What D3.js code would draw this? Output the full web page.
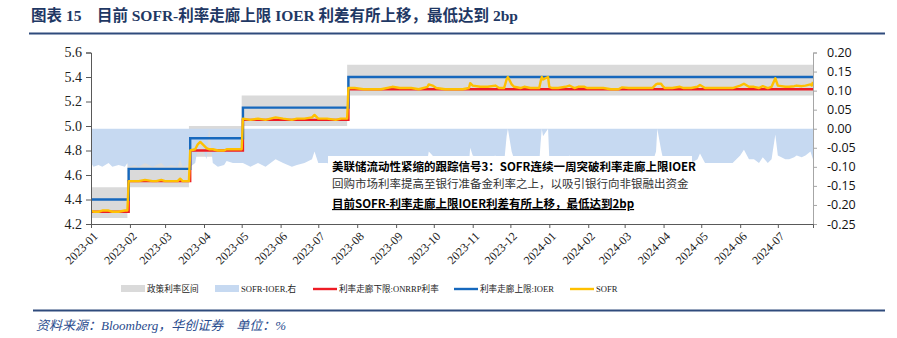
<!DOCTYPE html>
<html>
<head>
<meta charset="utf-8">
<script src="https://cdn.jsdelivr.net/npm/d3@7"></script>
<style>
  body { margin: 0; background: #fff; }
  svg { display: block; }
</style>
</head>
<body>
<svg id="chart" width="897" height="338"></svg>
<script>
// ---- Data -------------------------------------------------------------
const xDomain = ["2023-01-03", "2024-07-31"];
const xTickLabels = ["2023-01","2023-02","2023-03","2023-04","2023-05","2023-06","2023-07","2023-08","2023-09","2023-10","2023-11","2023-12","2024-01","2024-02","2024-03","2024-04","2024-05","2024-06","2024-07"];
const leftTicks = [4.2, 4.4, 4.6, 4.8, 5.0, 5.2, 5.4, 5.6];
const rightTicks = [-0.25, -0.20, -0.15, -0.10, -0.05, 0.00, 0.05, 0.10, 0.15, 0.20];

// Fed policy range (target range) and its change dates
const bandDates = ["2023-01-03", "2023-02-01", "2023-03-22", "2023-05-03", "2023-07-26"];
const bandLow  = [4.25, 4.50, 4.75, 5.00, 5.25];
const bandHigh = [4.50, 4.75, 5.00, 5.25, 5.50];

// Corridor: ceiling IOER and floor ON RRP
const corridorDates = ["2023-01-03", "2023-02-02", "2023-03-23", "2023-05-04", "2023-07-27"];
const ioerValues  = [4.40, 4.65, 4.90, 5.15, 5.40];
const onrrpValues = [4.30, 4.55, 4.80, 5.05, 5.30];

// SOFR and SOFR-IOER spread (right axis)
const sofrDates = [
  "2023-01-03","2023-01-05","2023-01-09","2023-01-12","2023-01-17","2023-01-20","2023-01-25","2023-01-30","2023-02-01",
  "2023-02-02","2023-02-07","2023-02-10","2023-02-15","2023-02-21","2023-02-24","2023-02-28","2023-03-03","2023-03-08",
  "2023-03-13","2023-03-15","2023-03-17","2023-03-21","2023-03-22","2023-03-23","2023-03-27","2023-03-28","2023-03-29",
  "2023-03-30","2023-03-31","2023-04-03","2023-04-05","2023-04-07","2023-04-10","2023-04-14","2023-04-19","2023-04-21",
  "2023-04-26","2023-05-01","2023-05-03","2023-05-04","2023-05-10","2023-05-16","2023-05-22","2023-05-30","2023-06-05",
  "2023-06-12","2023-06-16","2023-06-22","2023-06-28","2023-06-30","2023-07-03","2023-07-10","2023-07-17","2023-07-21",
  "2023-07-26","2023-07-27","2023-08-01","2023-08-08","2023-08-15","2023-08-22","2023-08-31","2023-09-06","2023-09-15",
  "2023-09-21","2023-09-28","2023-09-29","2023-10-02","2023-10-05","2023-10-12","2023-10-20","2023-10-26","2023-10-31",
  "2023-11-01","2023-11-03","2023-11-09","2023-11-15","2023-11-21","2023-11-24","2023-11-28","2023-11-30","2023-12-01",
  "2023-12-04","2023-12-06","2023-12-11","2023-12-14","2023-12-19","2023-12-22","2023-12-26","2023-12-27","2023-12-28",
  "2023-12-29","2024-01-02","2024-01-03","2024-01-05","2024-01-10","2024-01-16","2024-01-19","2024-01-23","2024-01-26",
  "2024-01-31","2024-02-02","2024-02-08","2024-02-15","2024-02-21","2024-02-27","2024-03-01","2024-03-06","2024-03-12",
  "2024-03-19","2024-03-25","2024-03-27","2024-03-28","2024-03-29","2024-04-01","2024-04-02","2024-04-04","2024-04-10",
  "2024-04-16","2024-04-19","2024-04-25","2024-04-30","2024-05-02","2024-05-06","2024-05-13","2024-05-20","2024-05-28",
  "2024-06-03","2024-06-06","2024-06-10","2024-06-14","2024-06-18","2024-06-21","2024-06-25","2024-06-28","2024-07-01",
  "2024-07-03","2024-07-09","2024-07-12","2024-07-16","2024-07-18","2024-07-22","2024-07-25","2024-07-29","2024-07-30",
  "2024-07-31"
];
const sofrValues = [
  4.31,4.30,4.30,4.31,4.31,4.30,4.30,4.31,4.31,
  4.55,4.55,4.55,4.56,4.55,4.55,4.56,4.55,4.55,
  4.55,4.57,4.55,4.55,4.55,4.80,4.81,4.83,4.85,
  4.86,4.87,4.84,4.82,4.81,4.81,4.80,4.80,4.81,
  4.81,4.81,4.81,5.06,5.05,5.06,5.05,5.07,5.06,
  5.05,5.06,5.06,5.07,5.09,5.06,5.06,5.05,5.06,
  5.06,5.31,5.31,5.30,5.30,5.30,5.32,5.31,5.31,
  5.30,5.32,5.34,5.33,5.31,5.30,5.30,5.30,5.31,
  5.35,5.33,5.32,5.32,5.33,5.31,5.31,5.38,5.40,
  5.34,5.32,5.31,5.32,5.31,5.31,5.31,5.36,5.40,
  5.38,5.40,5.32,5.31,5.31,5.32,5.33,5.31,5.32,
  5.32,5.31,5.31,5.31,5.30,5.30,5.315,5.31,5.31,
  5.31,5.31,5.33,5.34,5.345,5.345,5.33,5.31,5.31,
  5.32,5.31,5.31,5.32,5.335,5.31,5.31,5.31,5.31,
  5.33,5.345,5.32,5.32,5.31,5.325,5.31,5.32,5.39,
  5.33,5.32,5.32,5.325,5.33,5.325,5.33,5.34,5.33,
  5.36
];
const spreadValues = [
  -0.09,-0.10,-0.095,-0.10,-0.09,-0.10,-0.095,-0.10,-0.09,
  -0.10,-0.095,-0.10,-0.09,-0.10,-0.095,-0.09,-0.10,-0.095,
  -0.10,-0.08,-0.10,-0.095,-0.10,-0.10,-0.09,-0.07,-0.05,
  -0.06,-0.03,-0.06,-0.08,0.00,-0.09,-0.10,-0.095,-0.085,
  -0.09,-0.09,-0.09,-0.09,-0.10,-0.09,-0.10,-0.08,-0.09,
  -0.10,-0.095,-0.09,-0.08,-0.06,-0.09,-0.09,-0.10,-0.09,
  -0.09,-0.09,-0.09,-0.10,-0.10,-0.10,-0.08,-0.09,-0.09,
  -0.10,-0.08,-0.06,-0.07,-0.09,-0.10,-0.10,-0.10,-0.09,
  -0.05,-0.07,-0.08,-0.08,-0.07,-0.09,-0.09,-0.02,0.00,
  -0.06,-0.08,-0.09,-0.08,-0.09,-0.09,-0.09,-0.04,0.00,
  -0.02,0.00,-0.08,-0.09,-0.09,-0.08,-0.07,-0.09,-0.08,
  -0.08,-0.09,-0.09,-0.09,-0.10,-0.10,-0.085,-0.09,-0.09,
  -0.09,-0.09,-0.07,-0.06,0.00,-0.055,-0.07,-0.09,-0.09,
  -0.08,-0.09,-0.09,-0.08,-0.065,-0.09,-0.09,-0.09,-0.09,
  -0.07,-0.055,-0.08,-0.08,-0.09,-0.075,-0.09,-0.08,-0.015,
  -0.07,-0.08,-0.08,-0.075,-0.07,-0.075,-0.07,-0.06,-0.07,
  -0.08
];

const legendItems = [
  { label: "政策利率区间", kind: "rect", color: "#DADADA" },
  { label: "SOFR-IOER,右", kind: "rect", color: "#C6D9F1" },
  { label: "利率走廊下限:ONRRP利率", kind: "line", color: "#EE1C25" },
  { label: "利率走廊上限:IOER", kind: "line", color: "#1668BD" },
  { label: "SOFR", kind: "line", color: "#FFC000" }
];
const legendX = [121, 215, 313, 454, 570];

// ---- Layout -----------------------------------------------------------
const svg = d3.select("#chart");
const plot = { left: 91, right: 813, top: 52.5, bottom: 224 };
const parse = d3.timeParse("%Y-%m-%d");
const serif = "'Liberation Serif','Times New Roman','Noto Sans CJK SC',serif";
const cjk = "'Noto Sans CJK SC','Liberation Sans',sans-serif";

const x = d3.scaleTime().domain(xDomain.map(parse)).range([plot.left, plot.right]);
const yL = d3.scaleLinear().domain([4.2, 5.6]).range([plot.bottom, plot.top]);
const yR = d3.scaleLinear().domain([-0.25, 0.20]).range([plot.bottom, plot.top]);

svg.append("defs").append("clipPath").attr("id", "plotClip")
  .append("rect").attr("x", plot.left).attr("y", plot.top - 2)
  .attr("width", plot.right - plot.left).attr("height", plot.bottom - plot.top + 2);

const g = svg.append("g").attr("clip-path", "url(#plotClip)");

// Policy range band
const bandData = bandDates.map((d, i) => ({ date: parse(d), lo: bandLow[i], hi: bandHigh[i] }));
bandData.push({ date: parse(xDomain[1]), lo: bandLow[bandLow.length - 1], hi: bandHigh[bandHigh.length - 1] });
g.append("path").datum(bandData)
  .attr("fill", "#DADADA")
  .attr("d", d3.area().curve(d3.curveStepAfter)
    .x(d => x(d.date)).y0(d => yL(d.lo)).y1(d => yL(d.hi)));

// SOFR-IOER spread area (right axis)
const spreadData = sofrDates.map((d, i) => ({ date: parse(d), v: spreadValues[i] }));
g.append("path").datum(spreadData)
  .attr("fill", "#C6D9F1")
  .attr("d", d3.area().x(d => x(d.date)).y0(yR(0)).y1(d => yR(d.v)));

// Corridor step lines
function stepSeries(values) {
  const s = corridorDates.map((d, i) => ({ date: parse(d), v: values[i] }));
  s.push({ date: parse(xDomain[1]), v: values[values.length - 1] });
  return s;
}
const stepLine = d3.line().curve(d3.curveStepAfter).x(d => x(d.date)).y(d => yL(d.v));
g.append("path").datum(stepSeries(onrrpValues))
  .attr("fill", "none").attr("stroke", "#EE1C25").attr("stroke-width", 2.4).attr("d", stepLine);
g.append("path").datum(stepSeries(ioerValues))
  .attr("fill", "none").attr("stroke", "#1668BD").attr("stroke-width", 2.4).attr("d", stepLine);

// SOFR
const sofrData = sofrDates.map((d, i) => ({ date: parse(d), v: sofrValues[i] }));
g.append("path").datum(sofrData)
  .attr("fill", "none").attr("stroke", "#FFC000").attr("stroke-width", 2.4)
  .attr("stroke-linejoin", "round")
  .attr("d", d3.line().x(d => x(d.date)).y(d => yL(d.v)));

// ---- Axes -------------------------------------------------------------
const axisL = svg.append("g").attr("transform", `translate(${plot.left},0)`)
  .call(d3.axisLeft(yL).tickValues(leftTicks).tickFormat(d3.format(".1f")).tickSize(5).tickPadding(4));
axisL.select(".domain").attr("stroke", "#595959");
axisL.selectAll(".tick line").attr("stroke", "#595959");
axisL.selectAll("text").attr("font-family", serif).attr("font-size", 14).attr("fill", "#222");

const axisR = svg.append("g").attr("transform", `translate(${plot.right},0)`)
  .call(d3.axisRight(yR).tickValues(rightTicks).tickFormat(d3.format(".2f")).tickSize(4).tickPadding(10));
axisR.select(".domain").attr("stroke", "#A6A6A6");
axisR.selectAll(".tick line").attr("stroke", "#A6A6A6");
axisR.selectAll("text").attr("font-family", "'Open Sans','Liberation Sans',sans-serif")
  .attr("font-size", 12.5).attr("fill", "#111")
  .text(d => d3.format(".2f")(d).replace("−", "-"));

const tickDates = xTickLabels.map(s => parse(s + "-03"));
const axisB = svg.append("g").attr("transform", `translate(0,${plot.bottom})`)
  .call(d3.axisBottom(x).tickValues(tickDates).tickFormat((d, i) => xTickLabels[i]).tickSize(4));
axisB.select(".domain").attr("stroke", "#595959");
axisB.selectAll(".tick line").attr("stroke", "#595959");
axisB.selectAll("text")
  .attr("font-family", serif).attr("font-size", 12).attr("fill", "#222")
  .attr("text-anchor", "end")
  .attr("dx", 0).attr("dy", 0)
  .attr("transform", "translate(2,8) rotate(-45)");

// ---- Annotation box ----------------------------------------------------
svg.append("rect").attr("x", 328).attr("y", 156).attr("width", 364).attr("height", 58).attr("fill", "#fff");
const ann = svg.append("g").attr("font-family", cjk).attr("font-size", 11.5);
ann.append("text").attr("x", 332).attr("y", 171).attr("font-weight", "bold").attr("fill", "#000")
  .text("美联储流动性紧缩的跟踪信号3：SOFR连续一周突破利率走廊上限IOER");
ann.append("text").attr("x", 332).attr("y", 188).attr("fill", "#333")
  .text("回购市场利率提高至银行准备金利率之上，以吸引银行向非银融出资金");
ann.append("text").attr("x", 332).attr("y", 208).attr("font-weight", "bold").attr("fill", "#000")
  .attr("text-decoration", "underline")
  .text("目前SOFR-利率走廊上限IOER利差有所上移，最低达到2bp");

// ---- Legend -----------------------------------------------------------
const leg = svg.append("g");
legendItems.forEach((it, i) => {
  const lx = legendX[i];
  if (it.kind === "rect") {
    leg.append("rect").attr("x", lx).attr("y", 285).attr("width", 24).attr("height", 7).attr("fill", it.color);
  } else {
    leg.append("line").attr("x1", lx).attr("x2", lx + 24).attr("y1", 289).attr("y2", 289)
      .attr("stroke", it.color).attr("stroke-width", 2.4);
  }
  leg.append("text").attr("x", lx + 26).attr("y", 292)
    .attr("font-family", serif).attr("font-size", 8.6).attr("fill", "#222").text(it.label);
});

// ---- Title and source -------------------------------------------------
svg.append("text").attr("x", 31).attr("y", 21)
  .attr("font-family", "'Liberation Serif','Noto Sans CJK SC',serif").attr("font-weight", "bold")
  .attr("font-size", 15.5).attr("fill", "#1F3864")
  .text("图表 15　目前 SOFR-利率走廊上限 IOER 利差有所上移，最低达到 2bp");
svg.append("line").attr("x1", 29).attr("x2", 885).attr("y1", 33.5).attr("y2", 33.5)
  .attr("stroke", "#2F4B7C").attr("stroke-width", 2);
svg.append("line").attr("x1", 33).attr("x2", 885).attr("y1", 310.5).attr("y2", 310.5)
  .attr("stroke", "#2F4B7C").attr("stroke-width", 2);
svg.append("text").attr("x", 36).attr("y", 330)
  .attr("font-family", "'Liberation Serif','Noto Sans CJK SC',serif").attr("font-style", "italic")
  .attr("font-size", 13).attr("fill", "#2A4C8E")
  .text("资料来源：Bloomberg，华创证券　单位：%");
</script>
</body>
</html>
